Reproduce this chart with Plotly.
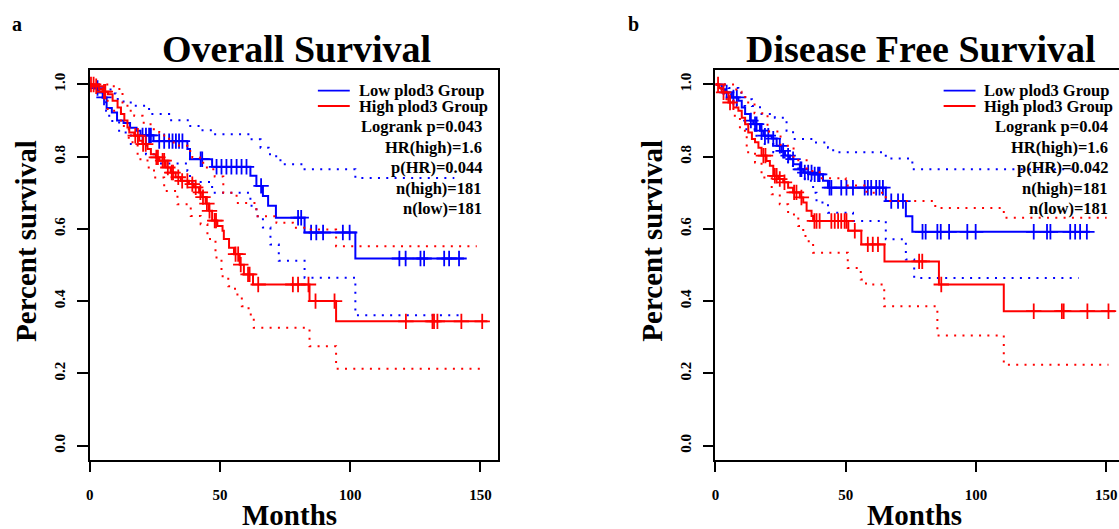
import numpy as np
import plotly.graph_objects as go

W, H = 1119, 529

# ---------------- Overall Survival ----------------
os_low_t = [0, 1.5, 3.5, 5, 6.5, 8.5, 10.5, 13, 15.5, 18, 19.5, 24.5, 37.5, 38.5, 47, 61.7, 64, 66.5, 68.5, 71.5, 82.5, 102]
os_low_s = [1.0, 0.99, 0.978, 0.964, 0.935, 0.922, 0.90, 0.893, 0.88, 0.872, 0.859, 0.843, 0.821, 0.793, 0.772, 0.747, 0.719, 0.691, 0.664, 0.631, 0.59, 0.518]
os_low_end = 143.7
os_low_cens = [3, 5.5, 20.3, 21.6, 22.8, 23.5, 26.7, 28.6, 30.5, 31.8, 33.1, 34.3, 35.6, 42.6, 43.2, 48.7, 50.6, 52.5, 54.4, 56.4, 58.3, 60.2, 65.8, 80, 81.2, 85, 87, 89.6, 97.2, 99.8, 118.9, 121.3, 127, 128.4, 136.1, 138, 141.8]
os_low_up_t = [0, 5, 8, 10, 13, 16.5, 22.8, 30.5, 38.1, 42.6, 47, 61.7, 65.6, 68.7, 71.6, 73.8, 82.5, 102]
os_low_up_s = [1.0, 0.99, 0.975, 0.96, 0.95, 0.941, 0.918, 0.901, 0.885, 0.873, 0.862, 0.848, 0.825, 0.807, 0.79, 0.779, 0.765, 0.741]
os_low_up_end = 140
os_low_lo_t = [0, 2, 4.3, 6.3, 7.5, 11.3, 15.8, 21.6, 26, 37.5, 38.5, 47, 61.7, 64, 66.5, 69.4, 72.6, 82.5, 102]
os_low_lo_s = [1.0, 0.98, 0.964, 0.927, 0.899, 0.867, 0.835, 0.807, 0.781, 0.76, 0.73, 0.70, 0.664, 0.635, 0.604, 0.557, 0.512, 0.465, 0.361]
os_low_lo_end = 142.6

os_high_t = [0, 2, 3.5, 5, 7, 8.8, 10.7, 12, 13.3, 14.5, 15.2, 17.1, 19, 20.3, 22.2, 23.5, 25.4, 26.7, 29.2, 31.1, 33, 35, 38.1, 40, 42, 43.2, 44.5, 45.8, 47, 49, 51, 51.5, 53.5, 55.4, 57.6, 59.2, 62.7, 84.4, 94.6]
os_high_s = [1.0, 0.995, 0.987, 0.98, 0.973, 0.955, 0.936, 0.918, 0.9, 0.881, 0.867, 0.858, 0.844, 0.835, 0.821, 0.807, 0.798, 0.789, 0.77, 0.756, 0.743, 0.733, 0.724, 0.715, 0.701, 0.688, 0.67, 0.65, 0.623, 0.608, 0.595, 0.572, 0.548, 0.53, 0.501, 0.474, 0.446, 0.40, 0.344]
os_high_end = 152.7
os_high_cens = [0.5, 1.5, 2.5, 5.5, 6, 17.5, 18.5, 20.5, 21.5, 25.6, 26.2, 28, 28.6, 30, 31.5, 32, 34, 35.5, 37.5, 39.4, 40.7, 42.5, 43.5, 45, 46, 48, 48.5, 56, 57, 58, 60.8, 61.4, 64.7, 78, 80, 84, 86.7, 94, 121.4, 131.6, 132.2, 133.5, 142.7, 150.7]
os_high_up_t = [0, 8, 11.4, 12.6, 14.5, 17.1, 20.3, 22.8, 24.1, 26.7, 28.6, 30.5, 34.3, 37.5, 39.4, 42.3, 45, 48, 51.3, 56.4, 64, 71.7, 78, 84.4, 94.6]
os_high_up_s = [1.0, 0.995, 0.982, 0.95, 0.927, 0.913, 0.894, 0.89, 0.876, 0.867, 0.853, 0.839, 0.83, 0.816, 0.798, 0.783, 0.765, 0.745, 0.70, 0.672, 0.635, 0.617, 0.603, 0.598, 0.552]
os_high_up_end = 148.6
os_high_lo_t = [0, 3, 5, 6.9, 12, 15, 18.4, 22.2, 24.7, 28.6, 33.7, 38.8, 42.6, 45.2, 48.3, 50.6, 53.2, 55.8, 58.4, 61, 63, 84.4, 94.6]
os_high_lo_s = [1.0, 0.99, 0.97, 0.927, 0.885, 0.84, 0.793, 0.77, 0.742, 0.705, 0.668, 0.636, 0.613, 0.572, 0.521, 0.469, 0.441, 0.418, 0.386, 0.363, 0.326, 0.275, 0.213]
os_high_lo_end = 150

# ---------------- Disease Free Survival ----------------
dfs_low_t = [0, 2.4, 3.7, 6.3, 8.8, 10.1, 11.4, 13.3, 14.5, 17.1, 18.4, 21.6, 23.5, 25.4, 26.7, 28.6, 29.9, 32.4, 33.7, 37.5, 41.3, 43.2, 65.4, 73.1, 75.6]
dfs_low_s = [1.0, 0.987, 0.978, 0.964, 0.955, 0.936, 0.918, 0.9, 0.89, 0.872, 0.858, 0.85, 0.83, 0.816, 0.803, 0.793, 0.779, 0.765, 0.756, 0.751, 0.733, 0.714, 0.677, 0.635, 0.592]
dfs_low_end = 143.8
dfs_low_cens = [4.3, 6.9, 8.2, 13.6, 15.2, 15.8, 17.7, 19, 20.3, 22.2, 24.7, 26, 27.9, 29.8, 32.6, 33, 34.3, 35.6, 36.9, 38.1, 39.4, 40, 43.8, 44.5, 48.3, 50.3, 52.8, 57.3, 58.5, 59.8, 61.7, 63, 64.3, 67.5, 70.1, 72, 79.5, 80.7, 85.2, 86.5, 89.7, 96.7, 99.9, 122.2, 127.3, 128.6, 136.2, 138.1, 140, 142.6]
dfs_low_up_t = [0, 5, 8.8, 11.4, 14, 17.1, 22.8, 27.3, 29.8, 38.1, 43.2, 45.2, 65.4, 75.6]
dfs_low_up_s = [1.0, 0.99, 0.977, 0.959, 0.94, 0.918, 0.908, 0.872, 0.849, 0.839, 0.825, 0.812, 0.795, 0.765]
dfs_low_up_end = 136.8
dfs_low_lo_t = [0, 3, 6, 8.2, 11.4, 15.2, 17.7, 22.2, 25.4, 27.9, 31.8, 34.3, 37.5, 38.8, 43.2, 52.8, 65.4, 73.1, 76.3]
dfs_low_lo_s = [1.0, 0.975, 0.955, 0.94, 0.876, 0.858, 0.835, 0.812, 0.798, 0.775, 0.751, 0.733, 0.70, 0.673, 0.645, 0.622, 0.571, 0.515, 0.464]
dfs_low_lo_end = 139.4

dfs_high_t = [0, 1.5, 2.4, 5, 6.9, 8.8, 10.1, 11.4, 12.6, 14, 15.2, 16.5, 17.7, 19.6, 20.9, 22.2, 24.1, 26, 27.9, 29.8, 32.4, 33.7, 35, 36.9, 37.5, 51, 56, 64.9, 85.8, 110.7]
dfs_high_s = [1.0, 0.99, 0.978, 0.95, 0.936, 0.927, 0.908, 0.89, 0.867, 0.849, 0.84, 0.825, 0.803, 0.788, 0.775, 0.747, 0.738, 0.729, 0.714, 0.701, 0.687, 0.673, 0.65, 0.636, 0.622, 0.595, 0.557, 0.51, 0.446, 0.372]
dfs_high_end = 153.4
dfs_high_cens = [1, 3.1, 5.6, 18.4, 19.2, 22.8, 23.5, 24.7, 26.5, 30.2, 31.1, 33, 38, 38.8, 40, 44.5, 45.8, 47.1, 48.3, 49.6, 50.3, 53.5, 58.5, 60.4, 62.4, 78.2, 79.4, 86.7, 122.2, 133, 133.7, 142.8, 150.9]
dfs_high_up_t = [0, 5, 8, 10, 12, 15, 20, 25, 30, 35, 40, 50, 58, 65.4, 84.4, 110.7]
dfs_high_up_s = [1.0, 1.0, 0.98, 0.965, 0.95, 0.92, 0.87, 0.83, 0.79, 0.76, 0.74, 0.72, 0.70, 0.677, 0.658, 0.631]
dfs_high_up_end = 150.2
dfs_high_lo_t = [0, 2, 4.3, 6.9, 9.4, 12, 15.2, 17.7, 21.6, 24.7, 27.9, 31.8, 33.7, 35, 37.5, 50.8, 55.8, 57.8, 64.8, 85.2, 110.7]
dfs_high_lo_s = [1.0, 0.98, 0.955, 0.913, 0.872, 0.812, 0.784, 0.742, 0.696, 0.668, 0.64, 0.608, 0.58, 0.566, 0.534, 0.492, 0.46, 0.446, 0.386, 0.305, 0.224]
dfs_high_lo_end = 150.9

titles = ["Overall Survival", "Disease Free Survival"]
panel_letters = ["a", "b"]
legend_names = ["Low plod3 Group", "High plod3 Group"]
stats_os = ["Logrank p=0.043", "HR(high)=1.6", "p(HR)=0.044", "n(high)=181", "n(low)=181"]
stats_dfs = ["Logrank p=0.04", "HR(high)=1.6", "p(HR)=0.042", "n(high)=181", "n(low)=181"]
y_ticks = [0.0, 0.2, 0.4, 0.6, 0.8, 1.0]
y_ticklabels = ["0.0", "0.2", "0.4", "0.6", "0.8", "1.0"]
x_ticks = [0, 50, 100, 150]
x_ticklabels = ["0", "50", "100", "150"]

BLUE = "#0000FF"
RED = "#FF0000"
FONT = "Liberation Serif"

fig = go.Figure()


def step_xy(t, s, end):
    return list(t) + [end], list(s) + [s[-1]]


def cens_y(t, s, c):
    idx = np.searchsorted(np.array(t), np.array(c), side="right") - 1
    return list(np.array(s)[idx])


def add_group(t, s, end, cens, ut, us, uend, lt, ls, lend, color, xa, ya):
    for (tt, ss, ee) in [(ut, us, uend), (lt, ls, lend)]:
        x, y = step_xy(tt, ss, ee)
        fig.add_trace(go.Scatter(x=x, y=y, mode="lines", line_shape="hv",
                                 line=dict(color=color, width=2, dash="2px,6.3px"),
                                 xaxis=xa, yaxis=ya, showlegend=False, hoverinfo="skip"))
    x, y = step_xy(t, s, end)
    fig.add_trace(go.Scatter(x=x, y=y, mode="lines", line_shape="hv",
                             line=dict(color=color, width=2),
                             xaxis=xa, yaxis=ya, showlegend=False))
    fig.add_trace(go.Scatter(x=cens, y=cens_y(t, s, cens), mode="markers",
                             marker=dict(symbol="cross-thin-open", size=11, color=color,
                                         line=dict(color=color, width=1.8)),
                             xaxis=xa, yaxis=ya, showlegend=False))


add_group(os_low_t, os_low_s, os_low_end, os_low_cens, os_low_up_t, os_low_up_s, os_low_up_end,
          os_low_lo_t, os_low_lo_s, os_low_lo_end, BLUE, "x", "y")
add_group(os_high_t, os_high_s, os_high_end, os_high_cens, os_high_up_t, os_high_up_s, os_high_up_end,
          os_high_lo_t, os_high_lo_s, os_high_lo_end, RED, "x", "y")
add_group(dfs_low_t, dfs_low_s, dfs_low_end, dfs_low_cens, dfs_low_up_t, dfs_low_up_s, dfs_low_up_end,
          dfs_low_lo_t, dfs_low_lo_s, dfs_low_lo_end, BLUE, "x2", "y2")
add_group(dfs_high_t, dfs_high_s, dfs_high_end, dfs_high_cens, dfs_high_up_t, dfs_high_up_s, dfs_high_up_end,
          dfs_high_lo_t, dfs_high_lo_s, dfs_high_lo_end, RED, "x2", "y2")


def px(xp):
    return xp / W


def py(yp):
    return 1 - yp / H


PX_PER_MONTH = 130.7 / 50
left0, right0 = 86, 714
top, bottom = 70, 460
OFF = right0 - left0

tickfont = dict(family=FONT, size=15, color="black", weight="bold")
xcommon = dict(tickvals=x_ticks, ticktext=x_ticklabels, ticks="outside", ticklen=10, tickwidth=1.5,
               tickcolor="black", showline=True, linecolor="black", linewidth=1.5, mirror=True,
               showgrid=False, zeroline=False, tickfont=tickfont, ticklabelstandoff=10)
ycommon = dict(tickvals=y_ticks, ticktext=y_ticklabels, ticks="outside", ticklen=11, tickwidth=1.5,
               tickcolor="black", showline=True, linecolor="black", linewidth=1.5,
               showgrid=False, zeroline=False, tickfont=tickfont, tickangle=-90,
               range=[-0.04, 1.04], ticklabelstandoff=6)

fig.update_layout(
    width=W, height=H, autosize=False,
    margin=dict(l=0, r=0, t=0, b=0),
    paper_bgcolor="white", plot_bgcolor="white",
    xaxis=dict(domain=[px(left0), px(left0 + 410)], range=[0, 410 / PX_PER_MONTH], anchor="y", **xcommon),
    yaxis=dict(domain=[py(bottom), py(top)], anchor="x", mirror=True, **ycommon),
    xaxis2=dict(domain=[px(right0), 1.0], range=[0, (W - right0) / PX_PER_MONTH], anchor="y2", **xcommon),
    yaxis2=dict(domain=[py(bottom), py(top)], anchor="x2", mirror=False, **ycommon),
    showlegend=False,
)

annotations = []
shapes = []
for i, off in enumerate([0, OFF]):
    annotations.append(dict(x=px([13, 632][i]), y=py(24), xref="paper", yref="paper",
                            text=panel_letters[i], showarrow=False,
                            xanchor="center", yanchor="middle",
                            font=dict(family=FONT, size=20, color="black", weight="bold")))
    annotations.append(dict(x=px([294, 920][i]), y=py(49), xref="paper", yref="paper",
                            text=titles[i], showarrow=False, xanchor="center", yanchor="middle",
                            font=dict(family=FONT, size=38, color="black", weight="bold")))
    annotations.append(dict(x=px([287, 914][i]), y=py(515), xref="paper", yref="paper",
                            text="Months", showarrow=False, xanchor="center", yanchor="middle",
                            font=dict(family=FONT, size=29, color="black", weight="bold")))
    annotations.append(dict(x=px(22 + off), y=py(241), xref="paper", yref="paper",
                            text="Percent survival", showarrow=False, textangle=-90,
                            xanchor="center", yanchor="middle",
                            font=dict(family=FONT, size=29, color="black", weight="bold")))
    for name, col, yy in zip(legend_names, [BLUE, RED], [90.7, 106]):
        shapes.append(dict(type="line", xref="paper", yref="paper",
                           x0=px(315 + off), x1=px(347 + off), y0=py(yy), y1=py(yy),
                           line=dict(color=col, width=1.8)))
        annotations.append(dict(x=px(354 + off), y=py(yy), xref="paper", yref="paper",
                                text=name, showarrow=False, xanchor="left", yanchor="middle",
                                font=dict(family=FONT, size=16.5, color="black", weight="bold")))
    stats = [stats_os, stats_dfs][i]
    for txt, yy in zip(stats, [126.7, 147, 167.5, 188, 208]):
        annotations.append(dict(x=px(482 + off), y=py(yy), xref="paper", yref="paper",
                                text=txt, showarrow=False, xanchor="right", yanchor="middle",
                                font=dict(family=FONT, size=16.5, color="black", weight="bold")))

fig.update_layout(annotations=annotations, shapes=shapes)
fig.write_html("out.html", config={"displayModeBar": False},
               post_script="document.body.style.margin='0';document.body.style.overflow='hidden';")
